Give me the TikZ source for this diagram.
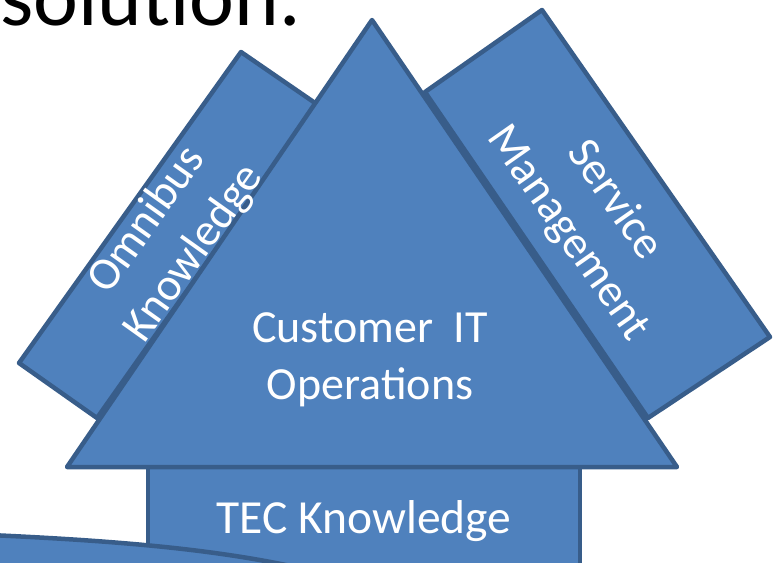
\documentclass[tikz,border=0pt]{standalone}
\usepackage{fontspec}
\setmainfont{Carlito}
\definecolor{fillb}{HTML}{4F81BD}
\definecolor{lineb}{HTML}{385D8A}
\begin{document}
\begin{tikzpicture}[x=1pt,y=-1pt,
  blk/.style={fill=fillb,draw=lineb,line width=4.5pt,line join=round},
  lbl/.style={text=white,font=\fontsize{46}{57}\selectfont,align=center,inner sep=0pt}]
\useasboundingbox (0,0) rectangle (776,562);
\clip (0,0) rectangle (776,562);
\node[anchor=base west,font=\fontsize{85}{100}\selectfont,inner sep=0pt] (title) at (0,25) {solution.};
% side bars
\draw[blk] (241,52) -- (318,105) -- (97,418) -- (19,363) -- cycle;
\draw[blk] (542,10) -- (770,337) -- (648,418) -- (425,92) -- cycle;
% base block
\draw[blk] (148,467) rectangle (580,590);
% triangle
\draw[blk] (372,20) -- (677,467) -- (67,467) -- cycle;
% bottom curved shape
\draw[blk] (-10,535) .. controls (120,541) and (240,550) .. (340,578) -- (340,600) -- (-10,600) -- cycle;
% labels
\node[lbl] (cust) at (370,360) {Customer\ \ IT\\Operations};
\node[lbl,anchor=base,font=\fontsize{47.5}{57}\selectfont] (tec) at (364,533) {TEC Knowledge};
\node[lbl,rotate=54.5] (omni) at (171,237) {Omnibus\\Knowledge};
\node[lbl,rotate=-55] (serv) at (591,217) {Service\\Management};
\end{tikzpicture}
\end{document}
